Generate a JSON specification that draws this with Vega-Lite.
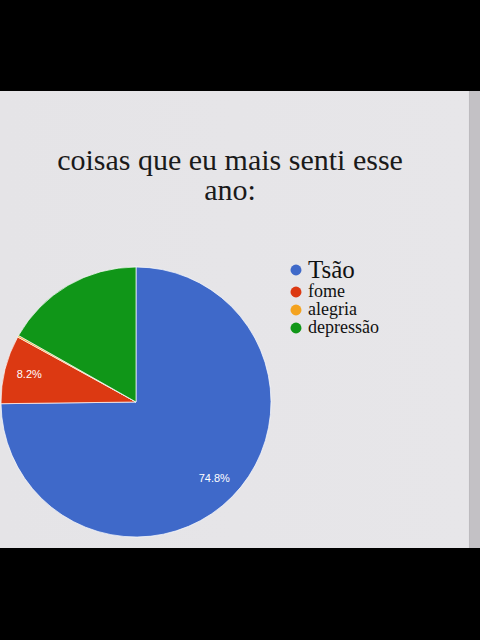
{
  "$schema": "https://vega.github.io/schema/vega-lite/v6.json",
  "width": 480,
  "height": 457,
  "autosize": {"type": "none"},
  "padding": {"left": 0, "top": 91, "right": 0, "bottom": 92},
  "background": "#000000",
  "title": {
    "text": ["coisas que eu mais senti esse", "ano:"],
    "font": "Liberation Serif",
    "fontSize": 30,
    "fontWeight": "normal",
    "color": "#1a1a1a",
    "lineHeight": 30,
    "anchor": "middle",
    "dx": -10,
    "dy": 119
  },
  "data": {
    "values": [
      {"categoria": "Tsão", "valor": 74.8},
      {"categoria": "fome", "valor": 8.2},
      {"categoria": "alegria", "valor": 0.2},
      {"categoria": "depressão", "valor": 16.8}
    ]
  },
  "transform": [
    {"calculate": "indexof(['Tsão', 'fome', 'alegria', 'depressão'], datum.categoria)", "as": "ordem"}
  ],
  "encoding": {
    "theta": {"field": "valor", "type": "quantitative", "stack": true},
    "order": {"field": "ordem", "type": "quantitative", "sort": "ascending"},
    "x": {"value": 136},
    "y": {"value": 311}
  },
  "layer": [
    {
      "mark": {"type": "arc", "outerRadius": 135, "stroke": "#ffffff", "strokeWidth": 0.7},
      "encoding": {
        "color": {
          "field": "categoria",
          "type": "nominal",
          "sort": ["Tsão", "fome", "alegria", "depressão"],
          "scale": {
            "domain": ["Tsão", "fome", "alegria", "depressão"],
            "range": ["#3f69c9", "#dc3912", "#f4a320", "#109618"]
          },
          "legend": {
            "orient": "none",
            "legendX": 287,
            "legendY": 170,
            "title": null,
            "symbolType": "circle",
            "symbolSize": 120,
            "symbolOpacity": 1,
            "symbolStrokeWidth": 0,
            "labelFont": "Liberation Serif",
            "labelFontSize": {"expr": "datum.value === 'Tsão' ? 25 : 18"},
            "labelColor": "#111111",
            "labelOffset": 3,
            "rowPadding": 0,
            "labelLimit": 200
          }
        }
      }
    },
    {
      "transform": [
        {"filter": "datum.categoria === 'Tsão' || datum.categoria === 'fome'"},
        {"calculate": "format(datum.valor, '.1f') + '%'", "as": "rotulo"}
      ],
      "mark": {
        "type": "text",
        "radius": 110,
        "font": "Liberation Sans",
        "fontSize": 11,
        "fill": "#ffffff"
      },
      "encoding": {
        "text": {"field": "rotulo", "type": "nominal"}
      }
    }
  ],
  "config": {
    "view": {
      "stroke": null,
      "fill": {
        "gradient": "linear",
        "x1": 0, "y1": 0, "x2": 1, "y2": 0,
        "stops": [
          {"offset": 0, "color": "#e5e4e7"},
          {"offset": 0.976, "color": "#e7e6e9"},
          {"offset": 0.977, "color": "#b9b7bb"},
          {"offset": 0.98, "color": "#c3c1c5"},
          {"offset": 1, "color": "#c3c1c5"}
        ]
      }
    }
  }
}
